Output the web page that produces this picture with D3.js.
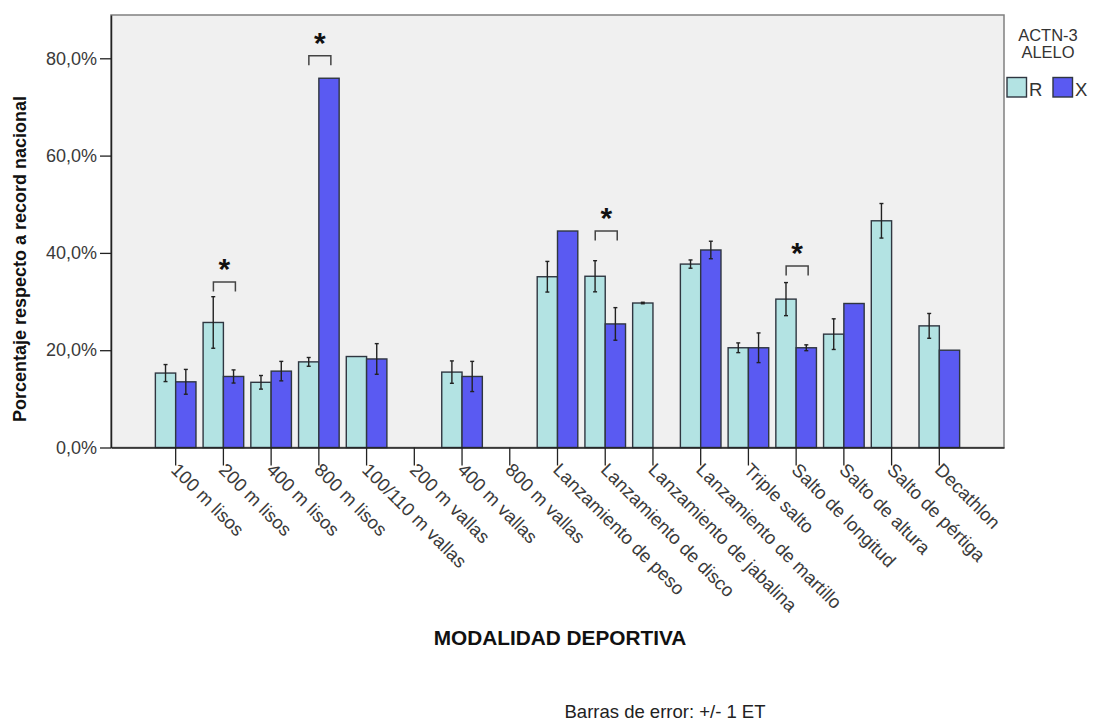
<!DOCTYPE html>
<html>
<head>
<meta charset="utf-8">
<script src="https://cdn.jsdelivr.net/npm/d3@7"></script>
<style>
  html, body { margin: 0; padding: 0; background: #fff; }
  svg { display: block; }
  text { font-family: "Liberation Sans", Arial, sans-serif; }
</style>
</head>
<body>
<svg id="chart" width="1096" height="721"></svg>
<script>
// Athletic events (x categories)
const categories = [
  "100 m lisos", "200 m lisos", "400 m lisos", "800 m lisos",
  "100/110 m vallas", "200 m vallas", "400 m vallas", "800 m vallas",
  "Lanzamiento de peso", "Lanzamiento de disco", "Lanzamiento de jabalina",
  "Lanzamiento de martillo", "Triple salto", "Salto de longitud",
  "Salto de altura", "Salto de pértiga", "Decathlon"
];
// ACTN-3 allele groups
const alleles = ["R", "X"];

// Mean percentage of the national record per group (null = no data)
const meanR = [15.3, 25.7, 13.4, 17.6, 18.7, null, 15.5, null, 35.1, 35.2, 29.7, 37.7, 20.5, 30.5, 23.3, 46.6, 25.0];
const meanX = [13.5, 14.6, 15.7, 75.9, 18.2, null, 14.6, null, 44.5, 25.4, null, 40.6, 20.5, 20.5, 29.6, null, 20.0];
// Standard error per group (null = single case, no error bar)
const seR = [1.75, 5.3, 1.4, 0.9, null, null, 2.3, null, 3.15, 3.2, 0.15, 0.85, 1.0, 3.4, 3.15, 3.55, 2.55];
const seX = [2.55, 1.35, 2.0, null, 3.15, null, 3.1, null, null, 3.35, null, 1.8, 3.05, 0.6, null, null, null];

// Significant differences: event and height of the bracket (%)
const sigEvents = ["200 m lisos", "800 m lisos", "Lanzamiento de disco", "Salto de longitud"];
const sigLevels = [34.0, 80.5, 44.5, 37.3];

const yTicks = [0, 20, 40, 60, 80];

const colors = { R: "#b3e3e3", X: "#5a5af2" };

const svg = d3.select("#chart");
const plotL = 111, plotR = 1004, plotT = 15, plotB = 447.5;

const x = d3.scaleBand().domain(categories).range([plotL, plotR])
  .paddingInner(0).paddingOuter(0.855);
const barW = 20.3;
const x1 = d3.scaleBand().domain(alleles).range([-barW, barW]);
const y = d3.scaleLinear().domain([0, 88.9]).range([plotB, plotT]);

const locale = d3.formatLocale({ decimal: ",", thousands: ".", grouping: [3], currency: ["", "€"] });
const fmt = v => locale.format(".1f")(v) + "%";

// plot background and frame
svg.append("rect").attr("x", plotL).attr("y", plotT)
  .attr("width", plotR - plotL).attr("height", plotB - plotT)
  .attr("fill", "#f0f0f0").attr("stroke", "#808080").attr("stroke-width", 1.5);

// rows of data
const rows = [];
categories.forEach((c, i) => {
  rows.push({ cat: c, allele: "R", mean: meanR[i], se: seR[i] });
  rows.push({ cat: c, allele: "X", mean: meanX[i], se: seX[i] });
});
const present = rows.filter(d => d.mean != null);

const cx = d => x(d.cat) + x.bandwidth() / 2;

// bars
svg.append("g").selectAll("rect").data(present).join("rect")
  .attr("x", d => cx(d) + x1(d.allele))
  .attr("y", d => y(d.mean))
  .attr("width", x1.bandwidth())
  .attr("height", d => y(0) - y(d.mean))
  .attr("fill", d => colors[d.allele])
  .attr("stroke", "#2f3640").attr("stroke-width", 1.4);

// error bars
const eb = svg.append("g").attr("stroke", "#222").attr("stroke-width", 1.4);
present.filter(d => d.se != null).forEach(d => {
  const mx = cx(d) + x1(d.allele) + x1.bandwidth() / 2;
  const y1 = y(d.mean + d.se), y2 = y(d.mean - d.se);
  eb.append("line").attr("x1", mx).attr("x2", mx).attr("y1", y1).attr("y2", y2);
  eb.append("line").attr("x1", mx - 2).attr("x2", mx + 2).attr("y1", y1).attr("y2", y1);
  eb.append("line").attr("x1", mx - 2).attr("x2", mx + 2).attr("y1", y2).attr("y2", y2);
});

// significance brackets with asterisks
sigEvents.forEach((c, i) => {
  const c0 = x(c) + x.bandwidth() / 2;
  const xa = c0 - 10, xb = c0 + 12, yt = y(sigLevels[i]);
  svg.append("path")
    .attr("d", `M${xa},${yt + 9.5}V${yt}H${xb}V${yt + 9.5}`)
    .attr("fill", "none").attr("stroke", "#444").attr("stroke-width", 1.5);
  svg.append("text").attr("x", (xa + xb) / 2).attr("y", yt - 3)
    .attr("text-anchor", "middle").attr("font-size", 30).attr("font-weight", "bold")
    .attr("fill", "#111").text("*");
});

// y axis
const yAxis = svg.append("g").attr("transform", `translate(${plotL},0)`)
  .call(d3.axisLeft(y).tickValues(yTicks).tickFormat(fmt)
    .tickSizeInner(11).tickSizeOuter(0).tickPadding(3));
yAxis.select(".domain").attr("stroke", "#222").attr("stroke-width", 1.5);
yAxis.selectAll(".tick line").attr("stroke", "#222").attr("stroke-width", 1.3);
yAxis.selectAll(".tick text").attr("font-size", 18).attr("fill", "#3a3a3a")
  .attr("font-family", "Liberation Sans, Arial, sans-serif");

// x axis
const xAxis = svg.append("g").attr("transform", `translate(0,${plotB})`)
  .call(d3.axisBottom(x).tickSizeInner(18).tickSizeOuter(0).tickPadding(0));
xAxis.select(".domain").attr("stroke", "#222").attr("stroke-width", 1.5);
xAxis.selectAll(".tick line").attr("stroke", "#222").attr("stroke-width", 1.3);
xAxis.selectAll(".tick text")
  .attr("font-size", 18.5).attr("fill", "#3a3a3a")
  .attr("font-family", "Liberation Sans, Arial, sans-serif")
  .attr("text-anchor", "start")
  .attr("transform", "translate(-1,19) rotate(45)")
  .attr("dy", "0.35em").attr("y", 0).attr("x", 0);

// axis titles
svg.append("text").attr("transform", "translate(26,259) rotate(-90)")
  .attr("text-anchor", "middle").attr("font-size", 18).attr("font-weight", "bold")
  .attr("font-family", "Open Sans, sans-serif").attr("fill", "#111")
  .text("Porcentaje respecto a record nacional");

svg.append("text").attr("x", 560).attr("y", 645)
  .attr("text-anchor", "middle").attr("font-size", 20.8).attr("font-weight", "bold")
  .attr("fill", "#111").text("MODALIDAD DEPORTIVA");

svg.append("text").attr("x", 665).attr("y", 718)
  .attr("text-anchor", "middle").attr("font-size", 18.5).attr("fill", "#222")
  .text("Barras de error: +/- 1 ET");

// legend
const lg = svg.append("g");
lg.append("text").attr("x", 1048).attr("y", 41).attr("text-anchor", "middle")
  .attr("font-size", 16.5).attr("fill", "#333").text("ACTN-3");
lg.append("text").attr("x", 1048).attr("y", 58).attr("text-anchor", "middle")
  .attr("font-size", 16.5).attr("fill", "#333").text("ALELO");
const legX = { R: 1007, X: 1053 };
alleles.forEach(a => {
  lg.append("rect").attr("x", legX[a]).attr("y", 77.5).attr("width", 19.5).attr("height", 19.5)
    .attr("fill", colors[a]).attr("stroke", "#2f3640").attr("stroke-width", 1.4);
  lg.append("text").attr("x", legX[a] + 22).attr("y", 96).attr("font-size", 18.5)
    .attr("fill", "#333").text(a);
});
</script>
</body>
</html>
